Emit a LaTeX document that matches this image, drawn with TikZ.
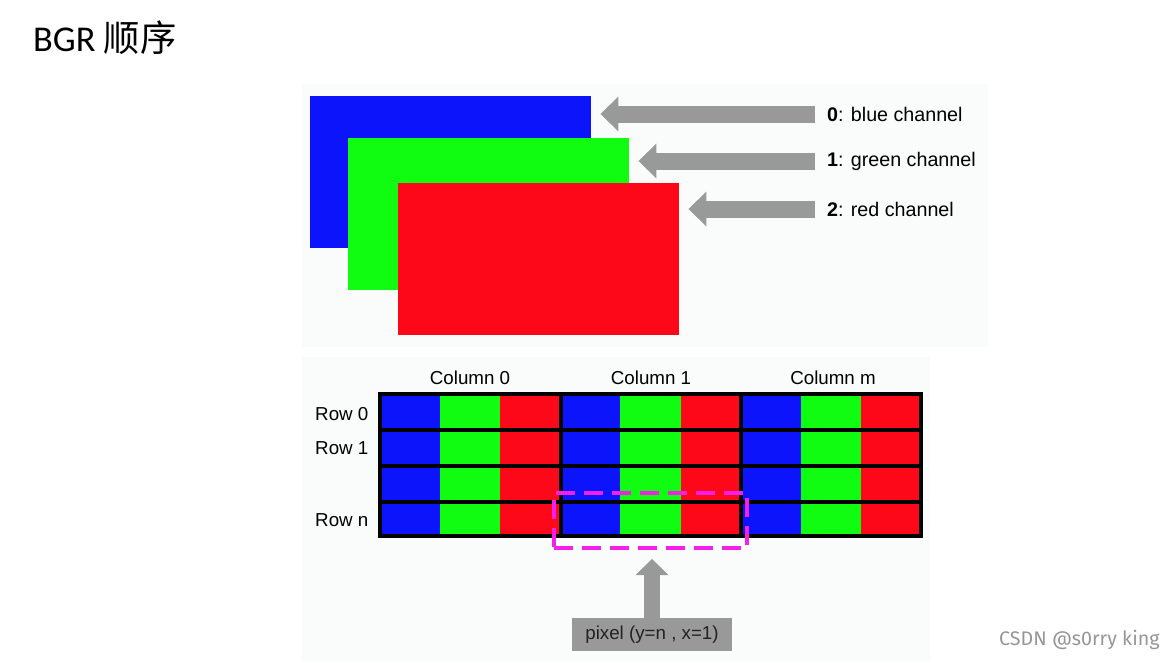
\documentclass[tikz,border=0pt]{standalone}
\usepackage{fontspec}
\setmainfont{Liberation Sans}
\newfontfamily\titlefont{Carlito}
\newfontfamily\cjk{Noto Sans CJK SC}
\newfontfamily\wmfont{Fira Sans}
\usetikzlibrary{arrows.meta}
\definecolor{chblue}{RGB}{12,20,252}
\definecolor{chgreen}{RGB}{16,252,16}
\definecolor{chred}{RGB}{252,8,24}
\definecolor{arrowgray}{RGB}{153,153,153}
\definecolor{panelgray}{RGB}{250,251,251}
\definecolor{pixmagenta}{RGB}{245,30,235}
\tikzset{
  plane/.style={anchor=north west,inner sep=0pt,minimum width=8.43cm,minimum height=4.56cm},
  chlabel/.style={anchor=west,inner xsep=0.36cm,font=\fontsize{16.8pt}{20pt}\selectfont},
  bigarrow/.style={draw=arrowgray,line width=0.51cm,-{Triangle[width=1.05cm,length=0.54cm,line width=0pt]},shorten >=0.27cm},
  gridline/.style={line width=0.1cm},
}
\begin{document}
\begin{tikzpicture}[x=0.03cm,y=-0.03cm,font=\fontsize{16pt}{19pt}\selectfont]
  \useasboundingbox (0,0) rectangle (1174,662);
  % background panels
  \fill[panelgray] (302,84) rectangle (988,347);
  \fill[panelgray] (302,357) rectangle (930,662);
  \node[anchor=west,inner sep=0pt,font=\fontsize{31pt}{36pt}\selectfont] (title) at (33,38) {\titlefont BGR \cjk 顺序};
  % the three channel planes
  \node[plane,fill=chblue] (blue) at (310,96) {};
  \node[plane,fill=chgreen] (green) at (348,138) {};
  \node[plane,fill=chred] (red) at (398,183) {};
  \node[chlabel] (lbl0) at (815,114) {\textbf{0}: blue channel};
  \node[chlabel] (lbl1) at (815,161) {\textbf{1}: green channel};
  \node[chlabel] (lbl2) at (815,209) {\textbf{2}: red channel};
  \draw[bigarrow] (lbl0.west) -- (lbl0.west -| blue.east);
  \draw[bigarrow] (lbl1.west) -- (lbl1.west -| green.east);
  \draw[bigarrow] (lbl2.west) -- (lbl2.west -| red.east);
  % pixel grid
  \foreach \g in {0,1,2}
    \foreach \c/\col in {0/chblue,1/chgreen,2/chred}
      \fill[\col] ({380+180.3*\g+60.1*\c},394) rectangle ++(60.1,142);
  \foreach \yy in {430,466,502} \draw[gridline] (380,\yy) -- (921,\yy);
  \foreach \xx in {561,741} \draw[gridline] (\xx,394) -- (\xx,536);
  \draw[line width=0.12cm] (380,394) rectangle (921,536);
  \foreach \x/\l [count=\i from 0] in {470/0,651/1,833/m}
    \node (col\i) at (\x,378) {Column \l};
  \foreach \y/\l [count=\i from 0] in {414/0,448/1,520/n}
    \node[anchor=west,inner sep=0pt] (row\i) at (315,\y) {Row \l};
  % one pixel
  \node[draw=pixmagenta,line width=0.12cm,dash pattern=on 0.57cm off 0.27cm,minimum width=5.79cm,minimum height=1.65cm,inner sep=0pt] (pix) at (650.5,520.5) {};
  \node[fill=arrowgray,text={rgb,255:red,34;green,34;blue,34},minimum width=4.8cm,minimum height=0.99cm,inner sep=0pt] (pixlbl) at (652,634.5) {pixel (y=n , x=1)};
  \draw[draw=arrowgray,line width=0.48cm,-{Triangle[width=0.99cm,length=0.48cm,line width=0pt]},shorten >=0.27cm] (pixlbl.north) -- (pixlbl.north |- pix.south);
  \node[anchor=west,text={rgb,255:red,150;green,150;blue,150},font=\wmfont\fontsize{16.8pt}{20pt}\selectfont] (mark) at (995,640) {CSDN @s0rry king};
\end{tikzpicture}
\end{document}
